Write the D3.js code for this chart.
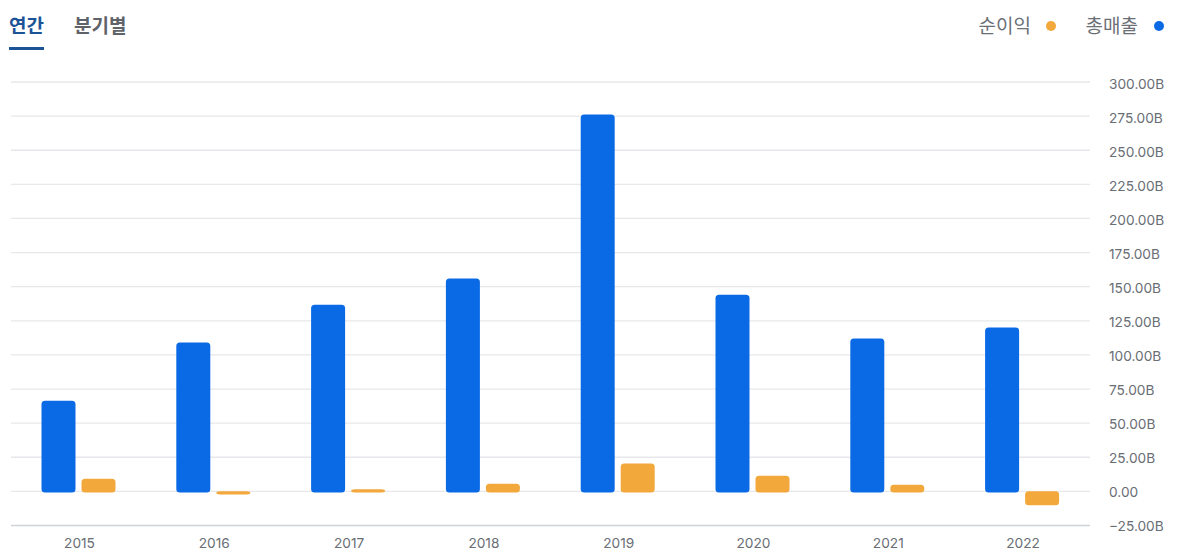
<!DOCTYPE html>
<html>
<head>
<meta charset="utf-8">
<script src="https://cdn.jsdelivr.net/npm/d3@7"></script>
<style>
  html, body { margin: 0; padding: 0; background: #fff; }
  text { font-family: Inter, "Noto Sans CJK KR", sans-serif; }
</style>
</head>
<body>
<script>
const years = ['2015', '2016', '2017', '2018', '2019', '2020', '2021', '2022'];
const revenue = [66.3, 108.9, 136.7, 155.8, 276, 144, 111.8, 119.9];
const netIncome = [9.2, -1.5, 1.5, 5.5, 20.2, 11.4, 4.8, -9.5];
const ticks = [-25, 0, 25, 50, 75, 100, 125, 150, 175, 200, 225, 250, 275, 300];
const tabs = ['연간', '분기별'];
const legendItems = ['순이익', '총매출'];

const width = 1177;
const height = 560;
const blue = '#0a6ae6';
const orange = '#f3a83c';

const svg = d3.select('body').append('svg')
  .attr('width', width)
  .attr('height', height)
  .style('display', 'block');

const x = d3.scaleBand().domain(years).range([11.1, 1089.5]);
const y = d3.scaleLinear().domain([-25, 300]).range([525.5, 82]);
// tick labels sit on a slightly tighter spacing than the grid
const yLabel = d3.scaleLinear().domain([-25, 300]).range([527, 85.5]);

// grid lines
svg.append('g').selectAll('line')
  .data(ticks)
  .join('line')
  .attr('x1', 11)
  .attr('x2', 1090)
  .attr('y1', d => y(d))
  .attr('y2', d => y(d))
  .attr('stroke', d => d === -25 ? '#d0d2da' : '#e6e8eb')
  .attr('stroke-width', 1.3);

// y labels
svg.append('g').selectAll('text')
  .data(ticks)
  .join('text')
  .attr('x', 1109)
  .attr('y', d => yLabel(d))
  .attr('dominant-baseline', 'middle')
  .attr('font-size', 13.7)
  .attr('fill', '#6a6e75')
  .text(d => d === 0 ? '0.00' : d3.format('.2f')(d) + 'B');

// x labels
svg.append('g').selectAll('text')
  .data(years)
  .join('text')
  .attr('x', d => x(d) + x.bandwidth() / 2 + 1)
  .attr('y', 544.5)
  .attr('dominant-baseline', 'middle')
  .attr('text-anchor', 'middle')
  .attr('font-size', 13.7)
  .attr('fill', '#6a6e75')
  .text(d => d);

// bars
const barW = 34;
const gap = 6;
function drawBars(values, offset, color) {
  svg.append('g').selectAll('rect')
    .data(values)
    .join('rect')
    .attr('x', (d, i) => x(years[i]) + x.bandwidth() / 2 + offset)
    .attr('y', d => y(Math.max(d, 0)) - 0.2)
    .attr('width', barW)
    .attr('height', d => Math.abs(y(d) - y(0)) + 1.2)
    .attr('rx', 3.5)
    .attr('fill', color);
}
drawBars(revenue, -barW - gap / 2, blue);
drawBars(netIncome, gap / 2, orange);

// tabs
svg.append('text').attr('x', 9).attr('y', 33)
  .attr('font-size', 19).attr('font-weight', 700).attr('fill', '#1c5296')
  .text(tabs[0]);
svg.append('text').attr('x', 74).attr('y', 33)
  .attr('font-size', 19).attr('font-weight', 700).attr('fill', '#5f6369')
  .text(tabs[1]);
svg.append('rect').attr('x', 9).attr('y', 47).attr('width', 35).attr('height', 3).attr('fill', '#1c5296');

// legend
svg.append('text').attr('x', 1031).attr('y', 33).attr('text-anchor', 'end')
  .attr('font-size', 19).attr('fill', '#6b6f76').text(legendItems[0]);
svg.append('circle').attr('cx', 1051).attr('cy', 26).attr('r', 5).attr('fill', orange);
svg.append('text').attr('x', 1138).attr('y', 33).attr('text-anchor', 'end')
  .attr('font-size', 19).attr('fill', '#6b6f76').text(legendItems[1]);
svg.append('circle').attr('cx', 1159).attr('cy', 26).attr('r', 5).attr('fill', blue);
</script>
</body>
</html>
